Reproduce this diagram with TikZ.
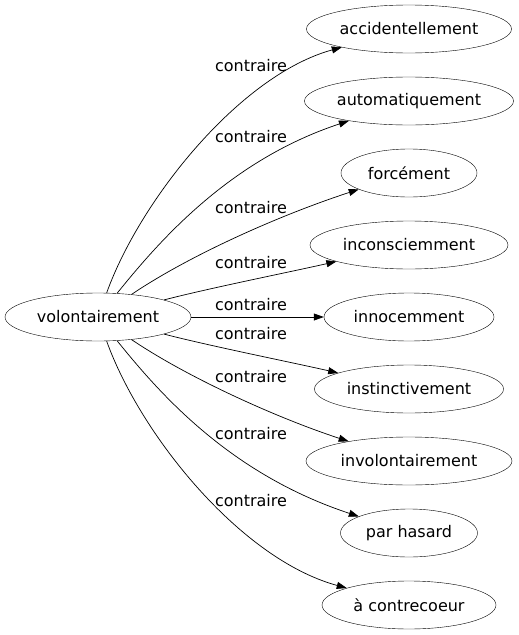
\documentclass[tikz,border=0pt]{standalone}
\usepackage{fontspec}
\setmainfont{DejaVu Sans}
\usetikzlibrary{shapes.geometric,arrows.meta}
\tikzset{
	mot/.style={draw, ellipse, minimum height=48pt, inner sep=0pt, font=\fontsize{16}{19}\selectfont},
	lien/.style={-{Triangle[length=10pt,width=7pt]}, line width=0.7pt},
	etiquette/.style={font=\fontsize{16}{19}\selectfont, inner sep=0pt}
}
\begin{document}
\begin{tikzpicture}[x=1pt,y=-1pt]
				\useasboundingbox (0,0) rectangle (519,635);
				\node[mot, minimum width=186pt] (vol) at (98,317) {volontairement};
				\node[mot, minimum width=205pt] (acc) at (409,29) {accidentellement};
				\node[mot, minimum width=209pt] (auto) at (409,101) {automatiquement};
				\node[mot, minimum width=136pt] (forc) at (409,173) {forcément};
				\node[mot, minimum width=198pt] (incon) at (409,245) {inconsciemment};
				\node[mot, minimum width=170pt] (inno) at (409,317) {innocemment};
				\node[mot, minimum width=189pt] (inst) at (409,389) {instinctivement};
				\node[mot, minimum width=206pt] (invol) at (409,461) {involontairement};
				\node[mot, minimum width=137pt] (hasard) at (409,533) {par hasard};
				\node[mot, minimum width=174pt] (coeur) at (409,605) {à contrecoeur};
				\draw[lien] (vol) .. controls (140,200) and (240,75) .. (acc);
				\draw[lien] (vol) .. controls (160,240) and (230,160) .. (auto);
				\draw[lien] (vol) .. controls (190,255) and (280,215) .. (forc);
				\draw[lien] (vol) .. controls (210,288) and (290,272) .. (incon);
				\draw[lien] (vol) -- (inno);
				\draw[lien] (vol) .. controls (210,346) and (290,362) .. (inst);
				\draw[lien] (vol) .. controls (190,379) and (280,419) .. (invol);
				\draw[lien] (vol) .. controls (160,394) and (230,474) .. (hasard);
				\draw[lien] (vol) .. controls (140,434) and (240,559) .. (coeur);
				\node[etiquette] (l1) at (251,66) {contraire};
				\node[etiquette] (l2) at (251,137) {contraire};
				\node[etiquette] (l3) at (251,208) {contraire};
				\node[etiquette] (l4) at (251,263) {contraire};
				\node[etiquette] (l5) at (251,305) {contraire};
				\node[etiquette] (l6) at (251,334) {contraire};
				\node[etiquette] (l7) at (251,377) {contraire};
				\node[etiquette] (l8) at (251,434) {contraire};
				\node[etiquette] (l9) at (251,501) {contraire};
			\end{tikzpicture}
\end{document}
